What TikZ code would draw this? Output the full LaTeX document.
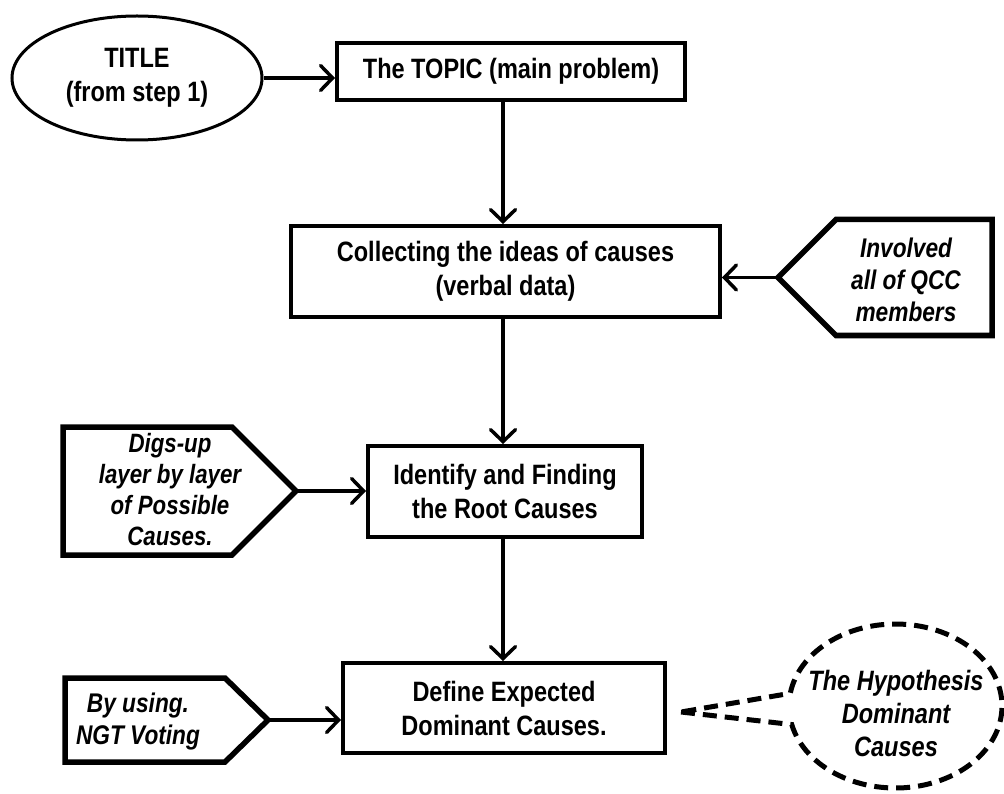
\documentclass[tikz,border=0pt]{standalone}
\usepackage{fontspec}
\setmainfont{Liberation Sans}[FakeStretch=0.84]
\usetikzlibrary{arrows.meta,shapes.callouts,shapes.geometric}
\begin{document}
\begin{tikzpicture}[x=1pt,y=-1pt,
  box/.style={draw, line width=4pt, align=center, inner sep=0pt,
    font=\fontsize{28}{34}\selectfont\bfseries},
  tag/.style={draw, line width=5.5pt, line join=miter},
  tagtext/.style={align=center, inner sep=0pt,
    font=\fontsize{27}{32}\selectfont\bfseries\itshape},
  arr/.style={line width=3.5pt,
    -{Straight Barb[length=12pt,width=25pt,line cap=round]}},
]
\useasboundingbox (0,0) rectangle (1004,794);

% main flow
\node[box, ellipse, line width=3pt, minimum width=250, minimum height=124]
  (title) at (137,78) {TITLE\\(from step 1)};
\node[box, minimum width=348, minimum height=57]
  (topic) at (511,71.5) {The TOPIC (main problem)};
\node[box, minimum width=429, minimum height=91]
  (collect) at (505.5,271.5) {Collecting the ideas of causes\\(verbal data)};
\node[box, minimum width=274, minimum height=91]
  (root) at (505,491.5) {Identify and Finding\\the Root Causes};
\node[box, minimum width=322, minimum height=90]
  (define) at (504,708) {Define Expected\\Dominant Causes.};

\coordinate (spine) at (503,0);
\draw[arr] (title.east) -- (title.east -| topic.west);
\draw[arr] (topic.south -| spine) -- (collect.north -| spine);
\draw[arr] (collect.south -| spine) -- (root.north -| spine);
\draw[arr] (root.south -| spine) -- (define.north -| spine);

% side tags
\draw[tag] (778,277.5) -- (836,219.5) -- (992,219.5) -- (992,335.5) -- (836,335.5) -- cycle;
\coordinate (invtip) at (778,277.5);
\node[tagtext] (inv) at (906,280) {Involved\\all of QCC\\members};
\draw[arr] (invtip) -- (invtip -| collect.east);

\draw[tag] (63,427) -- (232,427) -- (296,491) -- (232,555) -- (63,555) -- cycle;
\coordinate (digtip) at (296,491);
\node[tagtext, font=\fontsize{26.5}{31}\selectfont\bfseries\itshape]
  (dig) at (170,490) {Digs-up\\layer by layer\\of Possible\\Causes.};
\draw[arr] (digtip) -- (digtip -| root.west);

\draw[tag] (65,678) -- (225,678) -- (268,720) -- (225,762) -- (65,762) -- cycle;
\coordinate (ngttip) at (268,720);
\node[tagtext] (ngt) at (138,722) {By using.\\NGT Voting};
\draw[arr] (ngttip) -- (ngttip -| define.west);

% dashed speech bubble
\node[ellipse callout, draw, line width=5pt, dash pattern=on 14pt off 8pt,
  minimum width=213, minimum height=164,
  callout absolute pointer={(681,712)}, callout pointer arc=22]
  (hyp) at (895.5,706) {};
\node[tagtext, font=\fontsize{28}{33}\selectfont\bfseries\itshape]
  (hyptext) at (896,713) {The Hypothesis\\Dominant\\Causes};
\end{tikzpicture}
\end{document}
